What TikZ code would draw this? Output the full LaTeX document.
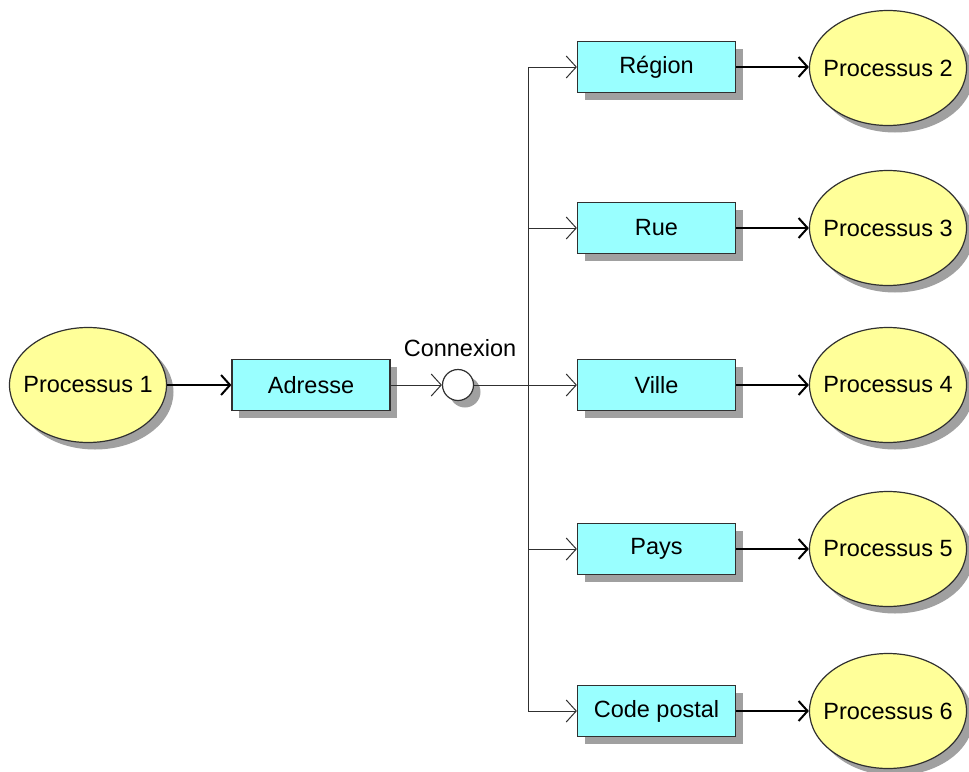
\documentclass[tikz,border=0pt]{standalone}
\usepackage{fontspec}
\setmainfont{Liberation Sans}
\usetikzlibrary{arrows.meta,shapes.geometric,shadows}
\definecolor{boxfill}{HTML}{99FFFF}
\definecolor{ellfill}{HTML}{FFFF99}
\definecolor{shade}{HTML}{A0A0A0}
\definecolor{edge}{HTML}{303030}
\begin{document}
\begin{tikzpicture}[x=1pt,y=-1pt,
  every node/.style={font=\fontsize{23.5}{27}\selectfont, inner sep=0pt},
  myshadow/.style={drop shadow={shadow xshift=7pt, shadow yshift=-7pt, fill=shade, opacity=1}},
  proc/.style={ellipse, draw=edge, line width=1.2pt, fill=ellfill, inner xsep=-12pt, minimum width=157pt, minimum height=115pt, myshadow},
  databox/.style={rectangle, draw=edge, line width=1.2pt, fill=boxfill, minimum width=158pt, minimum height=51pt, myshadow},
  conncirc/.style={circle, draw=edge, line width=1.2pt, fill=white, minimum size=31pt, myshadow},
  thickarrow/.style={line width=2.2pt, -{Straight Barb[length=9pt, width=20pt, line width=2pt]}},
  thinarrow/.style={line width=1pt, draw=edge, -{Straight Barb[length=10pt, width=22pt, line width=1pt]}},
  thinline/.style={line width=1pt, draw=edge}]
\useasboundingbox (0,0) rectangle (969,771);

\node[proc] (p1) at (88,385) {Processus 1};
\node[databox] (adr) at (311,385) {Adresse};
\node[conncirc] (conn) at (458,385) {};
\node (clabel) at (460,348) {Connexion};

\node[databox] (b1) at (656.5,67) {Région};
\node[databox] (b2) at (656.5,228) {Rue};
\node[databox] (b3) at (656.5,385) {Ville};
\node[databox] (b4) at (656.5,549) {Pays};
\node[databox] (b5) at (656.5,711) {Code postal};

\node[proc] (p2) at (888,68) {Processus 2};
\node[proc] (p3) at (888,228) {Processus 3};
\node[proc] (p4) at (888,385) {Processus 4};
\node[proc] (p5) at (888,549) {Processus 5};
\node[proc] (p6) at (888,711) {Processus 6};

\coordinate (j1) at (528,67);
\coordinate (j2) at (528,228);
\coordinate (j3) at (528,385);
\coordinate (j4) at (528,549);
\coordinate (j5) at (528,711);

\draw[thickarrow] (p1.east) -- (adr.west);
\draw[thinarrow] (adr.east) -- (conn.west);
\draw[thinline] (conn.east) -- (j3);
\draw[thinline] (j1) -- (j5);
\draw[thinarrow] (j1) -- (b1.west);
\draw[thinarrow] (j2) -- (b2.west);
\draw[thinarrow] (j3) -- (b3.west);
\draw[thinarrow] (j4) -- (b4.west);
\draw[thinarrow] (j5) -- (b5.west);

\draw[thickarrow] (b1.east) -- (p2.west |- b1.east);
\draw[thickarrow] (b2.east) -- (p3.west);
\draw[thickarrow] (b3.east) -- (p4.west);
\draw[thickarrow] (b4.east) -- (p5.west);
\draw[thickarrow] (b5.east) -- (p6.west);
\end{tikzpicture}
\end{document}
